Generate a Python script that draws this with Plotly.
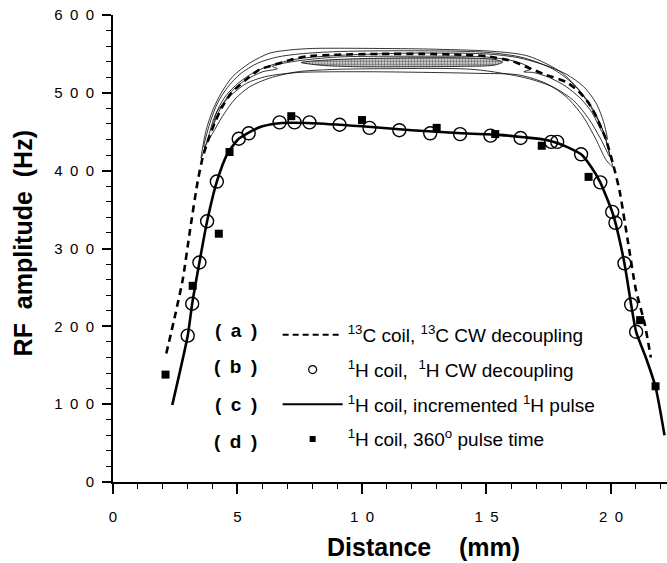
import plotly.graph_objects as go

# ---------------- data ----------------
# (a) 13C coil, 13C CW decoupling (dashed curve)
dist_a = [2.14, 2.5, 2.8, 3.1, 3.4, 3.61, 3.85, 4.08, 4.35, 4.75, 5.35, 5.88, 6.49, 7.09, 7.8,
          9.0, 10.7, 12.5, 14.0, 15.0, 16.0, 16.7, 17.4, 18.2, 18.7, 19.1, 19.4, 19.8, 20.07,
          20.34, 20.67, 21.0, 21.35, 21.6]
amp_a = [165, 215, 260, 325, 386, 418, 442, 461, 480, 500, 517, 530, 536, 542, 547,
         549, 550, 550, 549, 547, 541, 532, 523, 514, 502, 487, 470, 440, 410,
         375, 311, 247, 204, 160]

# (b) 1H coil, 1H CW decoupling (open circles)
dist_b = [3.0, 3.18, 3.47, 3.78, 4.17, 5.05, 5.45, 6.69, 7.29, 7.89, 9.1, 10.3, 11.5, 12.74,
          13.94, 15.16, 16.37, 17.6, 17.84, 18.8, 19.57, 20.05, 20.18, 20.54, 20.81, 21.01]
amp_b = [188, 229, 282, 335, 386, 441, 448, 462, 462, 462, 459, 455, 452, 448,
         447, 445, 442, 437, 437, 421, 385, 347, 333, 281, 228, 193]

# (c) 1H coil, incremented 1H pulse (solid curve)
dist_c = [2.38, 3.0, 3.18, 3.47, 3.78, 4.17, 4.6, 5.05, 5.45, 6.0, 6.69, 8.0, 10.0, 12.0, 14.0,
          15.5, 16.5, 17.3, 17.9, 18.4, 18.8, 19.2, 19.57, 20.05, 20.18, 20.54, 20.81, 21.01,
          21.4, 21.79, 22.15]
amp_c = [99, 188, 229, 282, 335, 386, 422, 441, 449, 457, 461, 461, 457, 452, 448,
         446, 443, 440, 435, 428, 421, 405, 385, 347, 333, 281, 228, 193,
         160, 122, 60]

# (d) 1H coil, 360 deg pulse time (filled squares)
dist_d = [2.11, 3.2, 4.25, 4.68, 7.16, 10.0, 13.0, 15.35, 17.22, 19.1, 21.17, 21.79]
amp_d = [138, 252, 319, 424, 470, 465, 455, 447, 432, 392, 208, 123]

# contour outlines drawn around the 13C curve
contour_outer_x = [3.54, 3.74, 4.01, 4.35, 4.81, 5.48, 6.29, 7.09, 8.0, 10.7, 13.0, 15.4, 16.7,
                   18.06, 19.0, 19.67, 20.0, 20.07, 19.8, 19.4, 18.87, 18.2, 17.4, 16.3, 14.7,
                   10.7, 8.7, 7.36, 6.15, 5.35, 4.68, 4.14, 3.8, 3.54]
contour_outer_y = [416, 452, 478, 500, 521, 538, 551, 555, 557, 557, 556, 553, 547,
                   525, 491, 452, 414, 405, 414, 440, 470, 495, 512, 523, 525,
                   527, 527, 526, 521, 512, 495, 474, 440, 416]

contour_mid_x = [3.65, 3.9, 4.2, 4.6, 5.1, 5.8, 6.6, 7.5, 9.0, 12.0, 15.0, 16.5, 17.7, 18.6,
                 19.3, 19.75, 19.95, 19.6, 19.1, 18.5, 17.7, 16.6, 14.5, 11.0, 8.8, 7.4,
                 6.3, 5.5, 4.9, 4.4, 4.0, 3.65]
contour_mid_y = [430, 462, 487, 507, 524, 538, 546, 550, 553, 554, 552, 545, 530, 508,
                 478, 445, 418, 440, 467, 490, 507, 519, 530, 531, 530, 527,
                 519, 508, 492, 470, 448, 430]

contour_inner_x = [4.0, 4.2, 4.55, 5.05, 5.7, 6.5, 7.5, 9.0, 12.0, 15.0, 16.3, 17.3, 18.2, 18.9,
                   19.4, 19.7, 19.85, 19.6, 19.25, 18.8, 18.2, 17.5, 16.9, 16.5, 16.8, 16.2,
                   15.0, 12.0, 9.0, 7.4, 6.7, 6.4, 6.6, 6.0, 5.3, 4.8, 4.4, 4.15, 4.0]
contour_inner_y = [455, 478, 497, 513, 527, 537, 544, 548, 551, 550, 545, 536, 524, 508,
                   487, 463, 440, 452, 474, 492, 508, 520, 526, 527, 531, 540,
                   546, 547, 546, 541, 537, 534, 531, 527, 516, 503, 485, 468, 455]

stipple_x = [7.56, 8.5, 10.0, 12.0, 14.0, 15.3, 15.65, 15.3, 14.0, 12.0, 10.0, 8.5, 7.56]
stipple_y = [539, 542, 544, 545, 545, 543, 539.5, 535.5, 534, 533.5, 533.5, 535, 539]

x_tick_vals = [0, 5, 10, 15, 20]
x_tick_text = ["0", "5", "1\u20020", "1\u20025", "2\u20020"]
y_tick_vals = [0, 100, 200, 300, 400, 500, 600]
y_tick_text = ["0", "1\u20020\u20020", "2\u20020\u20020", "3\u20020\u20020",
               "4\u20020\u20020", "5\u20020\u20020", "6\u20020\u20020"]

legend_tags = ["(\u2002a\u2002)", "(\u2002b\u2002)", "(\u2002c\u2002)", "(\u2002d\u2002)"]
legend_names = ["<sup>13</sup>C coil, <sup>13</sup>C CW decoupling",
                "<sup>1</sup>H coil, \u00a0<sup>1</sup>H CW decoupling",
                "<sup>1</sup>H coil, incremented <sup>1</sup>H pulse",
                "<sup>1</sup>H coil, 360<sup>o</sup> pulse time"]

FONT = "Liberation Sans, Arial, Helvetica, sans-serif"

fig = go.Figure()

# contours
for cx, cy in [(contour_outer_x, contour_outer_y), (contour_mid_x, contour_mid_y),
               (contour_inner_x, contour_inner_y)]:
    fig.add_trace(go.Scatter(x=cx, y=cy, mode="lines", line=dict(color="black", width=0.8,
                             shape="spline", smoothing=0.8), showlegend=False, hoverinfo="skip"))
fig.add_trace(go.Scatter(x=stipple_x, y=stipple_y, mode="lines", fill="toself",
                         fillcolor="white",
                         fillpattern=dict(shape=".", fgcolor="black", bgcolor="white", size=3, solidity=0.7),
                         line=dict(color="black", width=0.8, shape="spline", smoothing=0.8),
                         showlegend=False, hoverinfo="skip"))

# (a) dashed
fig.add_trace(go.Scatter(x=dist_a, y=amp_a, mode="lines",
                         line=dict(color="black", width=2.6, dash="7px,5px", shape="spline", smoothing=0.6),
                         showlegend=False))
# (c) solid
fig.add_trace(go.Scatter(x=dist_c, y=amp_c, mode="lines",
                         line=dict(color="black", width=2.6, shape="spline", smoothing=0.6),
                         showlegend=False))
# (b) circles
fig.add_trace(go.Scatter(x=dist_b, y=amp_b, mode="markers",
                         marker=dict(symbol="circle-open", size=13, color="black", line=dict(width=1.4)),
                         showlegend=False))
# (d) squares
fig.add_trace(go.Scatter(x=dist_d, y=amp_d, mode="markers",
                         marker=dict(symbol="square", size=8, color="black"),
                         showlegend=False))

# legend entries
legend_styles = [
    dict(mode="lines", line=dict(color="black", width=2, dash="6px,4px")),
    dict(mode="markers", marker=dict(symbol="circle-open", size=8, color="black", line=dict(width=1.2))),
    dict(mode="lines", line=dict(color="black", width=2)),
    dict(mode="markers", marker=dict(symbol="square", size=6, color="black")),
]
for i, (name, st) in enumerate(zip(legend_names, legend_styles)):
    fig.add_trace(go.Scatter(x=[None], y=[None], name=name, legendgroup=f"g{i}",
                             showlegend=True, **st))

annotations = []
row_y = [330, 366, 404, 441]
for tag, ry in zip(legend_tags, row_y):
    annotations.append(dict(text=f"<b>{tag}</b>", xref="paper", yref="paper",
                            x=(236 - 113.5) / (667 - 113.5), y=(482 - ry) / 467,
                            xanchor="center", yanchor="middle", showarrow=False,
                            font=dict(size=19, family=FONT, color="black")))
annotations.append(dict(text="<b>Distance\u00a0\u00a0\u00a0\u00a0(mm)</b>", xref="paper", yref="paper",
                        x=(424 - 113.5) / (667 - 113.5), y=-(547 - 482) / 467,
                        xanchor="center", yanchor="middle", showarrow=False,
                        font=dict(size=25, family=FONT, color="black")))
annotations.append(dict(text="<b>RF\u00a0\u00a0amplitude\u00a0\u00a0(Hz)</b>", xref="paper", yref="paper",
                        x=-(113.5 - 24) / (667 - 113.5), y=(482 - 243) / 467, textangle=-90,
                        xanchor="center", yanchor="middle", showarrow=False,
                        font=dict(size=25, family=FONT, color="black")))

fig.update_layout(
    width=667, height=563,
    margin=dict(l=113, r=0, t=15, b=81),
    paper_bgcolor="white", plot_bgcolor="white",
    font=dict(family=FONT, color="black"),
    showlegend=True,
    legend=dict(x=(278 - 113.5) / (667 - 113.5), y=(482 - 316) / 467, xanchor="left", yanchor="top",
                bgcolor="rgba(0,0,0,0)", font=dict(size=19, family=FONT, color="black"),
                tracegroupgap=7, itemwidth=60, traceorder="grouped"),
    annotations=annotations,
    xaxis=dict(range=[0, 22.25], showgrid=False, zeroline=False, showline=True, linecolor="black",
               linewidth=1.6, ticks="outside", ticklen=10, tickwidth=1.6, tickcolor="black",
               tickvals=x_tick_vals, ticktext=x_tick_text, ticklabelstandoff=10,
               tickfont=dict(size=15, family=FONT, color="black"),
               minor=dict(dtick=1, ticks="outside", ticklen=5, tickwidth=1.2, tickcolor="black", showgrid=False)),
    yaxis=dict(range=[0, 600], showgrid=False, zeroline=False, showline=True, linecolor="black",
               linewidth=1.6, ticks="outside", ticklen=9, tickwidth=1.6, tickcolor="black",
               tickvals=y_tick_vals, ticktext=y_tick_text, ticklabelstandoff=5,
               tickfont=dict(size=15, family=FONT, color="black"),
               minor=dict(dtick=20, ticks="outside", ticklen=5, tickwidth=1.2, tickcolor="black", showgrid=False)),
)

fig.write_html("out.html", config={"displayModeBar": False},
               post_script="document.body.style.margin='0px';document.body.style.padding='0px';")
